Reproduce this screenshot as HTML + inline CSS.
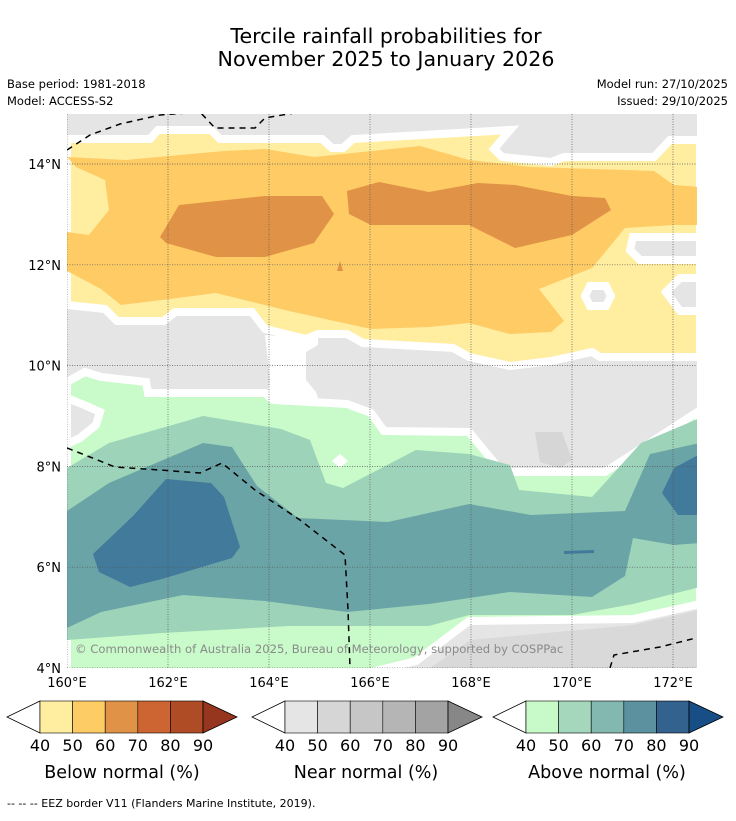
<!DOCTYPE html>
<html><head><meta charset="utf-8">
<style>
body{margin:0;background:#fff;font-family:"Liberation Sans","DejaVu Sans",sans-serif;}
svg text{font-family:"DejaVu Sans","Liberation Sans",sans-serif;}
</style></head>
<body>
<svg id="chart" width="736" height="816" viewBox="0 0 736 816" xmlns="http://www.w3.org/2000/svg">
<text x="386" y="43" font-size="20.6" text-anchor="middle">Tercile rainfall probabilities for</text>
<text x="386" y="66" font-size="20.6" text-anchor="middle">November 2025 to January 2026</text>
<text x="7" y="88" font-size="11.5">Base period: 1981-2018</text>
<text x="7" y="105" font-size="11.5">Model: ACCESS-S2</text>
<text x="728" y="88" font-size="11.5" text-anchor="end">Model run: 27/10/2025</text>
<text x="728" y="105" font-size="11.5" text-anchor="end">Issued: 29/10/2025</text>
<defs><clipPath id="mapclip"><rect x="67" y="114" width="630" height="554"/></clipPath></defs>
<g id="map" clip-path="url(#mapclip)">
<rect x="67" y="114" width="630" height="554" fill="#e5e5e5"/>
<polygon points="430,668 470,640 633,625 700,610 700,668" fill="#d9d9d9"/>
<polygon points="535,432 562,432 572,460 560,468 540,462" fill="#d6d6d6"/>
<polygon points="265,335 306,339 318,334 318,345 306,352 306,380 316,392 320,404 265,404 270,380" fill="#fff"/>
<g id="contours"></g>
<g id="grid"></g>
<g id="eez" fill="none" stroke="#000" stroke-width="1.5" stroke-dasharray="6,5">
<polyline points="67,150 90,135 120,124 160,115 200,112 215,128 255,128 265,118 300,112"/>
<polyline points="67,448 90,457 115,467 160,470 200,473 222,463 255,490 300,520 345,555 348,610 350,668"/>
<polyline points="610,668 614,655 660,647 700,637"/>
</g>
<text x="75" y="653" font-size="11.6" fill="#8a8a8a">© Commonwealth of Australia 2025, Bureau of Meteorology, supported by COSPPac</text>
</g>
<g id="axes" font-size="13"></g>
<g id="colorbars"></g>
<text x="122" y="778" font-size="17.5" text-anchor="middle">Below normal (%)</text>
<text x="366" y="778" font-size="17.5" text-anchor="middle">Near normal (%)</text>
<text x="607" y="778" font-size="17.5" text-anchor="middle">Above normal (%)</text>
<text x="7" y="807" font-size="11">--  --  -- EEZ border V11 (Flanders Marine Institute, 2019).</text>
</svg>
<script>
const NS='http://www.w3.org/2000/svg';
const lonTicks=[160,162,164,166,168,170,172];
const latTicks=[14,12,10,8,6,4];
const colorbarTicks=[40,50,60,70,80,90];
const belowColors=['#ffeda0','#fecc65','#e09346','#cd6532','#b04c25'];
const nearColors=['#e5e5e5','#d6d6d6','#c6c6c6','#b5b5b5','#a3a3a3'];
const aboveColors=['#c8fac9','#a4d7bc','#83b8b0','#5c91a0','#33628f'];
function xLon(l){return 67+(l-160)*50.5;}
function yLat(l){return 164+(14-l)*50.4;}
const contours=[
 {name:'below-40-50',fill:'#ffeda0',stroke:true,pts:[[67,139],[150,139],[158,130],[211,130],[220,139],[322,139],[332,148],[343,148],[353,139],[510,130],[494,149],[502,157],[551,162],[564,157],[654,157],[670,140],[700,140],[700,357],[600,357],[592,352],[551,361],[510,366],[469,357],[453,348],[363,343],[347,334],[318,334],[306,339],[265,329],[252,312],[175,312],[164,321],[117,321],[105,309],[67,305]]},
 {name:'near-patch-right-1',fill:'#e5e5e5',stroke:true,pts:[[633,237],[700,237],[700,260],[640,260],[630,250]]},
 {name:'near-patch-right-2',fill:'#e5e5e5',stroke:true,pts:[[666,292],[680,278],[700,278],[700,311],[680,311]]},
 {name:'near-ring',fill:'#e5e5e5',stroke:true,pts:[[590,286],[606,286],[611,296],[606,306],[590,306],[585,296]]},
 {name:'below-50-60',fill:'#fecb65',stroke:false,pts:[[67,157],[126,160],[224,151],[265,149],[314,157],[420,146],[469,160],[531,167],[654,171],[674,185],[700,187],[700,225],[674,225],[625,228],[592,268],[539,289],[564,321],[551,332],[510,334],[469,323],[429,327],[371,329],[289,311],[216,293],[162,300],[121,305],[101,289],[67,271],[67,232],[89,235],[109,210],[105,180],[76,167]]},
 {name:'below-60-70-west',fill:'#e09346',stroke:false,pts:[[179,205],[265,196],[322,196],[334,214],[314,243],[265,257],[216,257],[166,243],[160,237]]},
 {name:'below-60-70-east',fill:'#e09346',stroke:false,pts:[[347,191],[379,182],[429,192],[478,183],[515,185],[572,196],[605,198],[611,210],[572,235],[515,248],[469,225],[371,225],[349,214]]},
 {name:'below-60-70-dot',fill:'#e09346',stroke:false,pts:[[340,261],[343,271],[337,271]]},
 {name:'above-40-50',fill:'#c8fbc9',stroke:true,pts:[[67,382],[85,372],[101,377],[146,382],[148,393],[265,393],[273,400],[347,404],[371,413],[384,431],[469,432],[502,472],[605,472],[699,411],[700,604],[633,619],[469,621],[416,661],[371,672],[67,672]]},
 {name:'near-left-notch',fill:'#e5e5e5',stroke:true,pts:[[67,398],[82,404],[100,412],[96,425],[80,438],[67,444]]},
 {name:'near-diamond',fill:'#ffffff',stroke:false,pts:[[340,454],[348,461],[340,468],[332,461]]},
 {name:'above-50-60',fill:'#9dd3b8',stroke:false,pts:[[67,468],[109,443],[183,422],[203,416],[281,429],[310,440],[326,483],[343,488],[416,450],[469,454],[510,465],[519,490],[592,497],[641,443],[700,418],[700,587],[633,604],[572,615],[469,615],[429,626],[289,626],[162,633],[67,640]]},
 {name:'above-60-70',fill:'#6ba4a6',stroke:false,pts:[[67,511],[109,483],[203,443],[232,447],[257,486],[298,518],[388,522],[469,504],[531,515],[625,511],[650,454],[700,443],[700,543],[674,545],[633,538],[625,576],[592,597],[510,592],[429,604],[347,612],[265,601],[183,595],[101,612],[67,628]]},
 {name:'above-70-80-west',fill:'#427a9b',stroke:false,pts:[[93,554],[134,515],[166,479],[211,483],[224,497],[240,547],[232,558],[162,579],[130,587],[99,572]]},
 {name:'above-70-80-east',fill:'#427a9b',stroke:false,pts:[[662,493],[674,468],[700,454],[700,515],[678,515]]},
 {name:'above-70-80-dash',fill:'#427a9b',stroke:false,pts:[[564,551],[594,550],[594,553],[564,554]]}
];
const cg=document.getElementById('contours');
contours.forEach(c=>{
 const p=document.createElementNS(NS,'polygon');
 p.setAttribute('points',c.pts.map(q=>q.join(',')).join(' '));
 p.setAttribute('fill',c.fill);
 if(c.stroke){p.setAttribute('stroke','#fff');p.setAttribute('stroke-width','8');p.setAttribute('stroke-linejoin','miter');}
 
 
 cg.appendChild(p);
});
const gg=document.getElementById('grid');
const ag=document.getElementById('axes');
lonTicks.forEach(l=>{
 const x=xLon(l);
 const ln=document.createElementNS(NS,'line');
 ln.setAttribute('x1',x);ln.setAttribute('x2',x);ln.setAttribute('y1',114);ln.setAttribute('y2',668);
 ln.setAttribute('stroke','#555');ln.setAttribute('stroke-width','0.7');ln.setAttribute('stroke-dasharray','1,1.5');
 
 
 gg.appendChild(ln);
 const t=document.createElementNS(NS,'text');
 t.setAttribute('x',x);t.setAttribute('y',687);t.setAttribute('text-anchor','middle');
 t.textContent=l+'°E';
 
 
 ag.appendChild(t);
});
latTicks.forEach(l=>{
 const y=yLat(l);
 const ln=document.createElementNS(NS,'line');
 ln.setAttribute('x1',67);ln.setAttribute('x2',697);ln.setAttribute('y1',y);ln.setAttribute('y2',y);
 ln.setAttribute('stroke','#555');ln.setAttribute('stroke-width','0.7');ln.setAttribute('stroke-dasharray','1,1.5');
 
 
 gg.appendChild(ln);
 const t=document.createElementNS(NS,'text');
 t.setAttribute('x',61);t.setAttribute('y',y+5);t.setAttribute('text-anchor','end');
 t.textContent=l+'°N';
 
 
 ag.appendChild(t);
});
const cb=document.getElementById('colorbars');
function colorbar(x0,colors,over,name){
 const w=32.6,top=701,h=32,mid=717;
 const g=document.createElementNS(NS,'g');
 
 
 const lt=document.createElementNS(NS,'polygon');
 lt.setAttribute('points',`${x0},${top} ${x0-33},${mid} ${x0},${top+h}`);
 lt.setAttribute('fill','#fff');lt.setAttribute('stroke','#000');lt.setAttribute('stroke-width','0.8');
 g.appendChild(lt);
 colors.forEach((c,i)=>{
  const r=document.createElementNS(NS,'rect');
  r.setAttribute('x',x0+i*w);r.setAttribute('y',top);r.setAttribute('width',w);r.setAttribute('height',h);
  r.setAttribute('fill',c);r.setAttribute('stroke','#000');r.setAttribute('stroke-width','0.6');
  
  
  g.appendChild(r);
 });
 const xe=x0+colors.length*w;
 const rt=document.createElementNS(NS,'polygon');
 rt.setAttribute('points',`${xe},${top} ${xe+34},${mid} ${xe},${top+h}`);
 rt.setAttribute('fill',over);rt.setAttribute('stroke','#000');rt.setAttribute('stroke-width','0.8');
 g.appendChild(rt);
 colorbarTicks.forEach((v,i)=>{
  const t=document.createElementNS(NS,'text');
  t.setAttribute('x',x0+i*w);t.setAttribute('y',751);t.setAttribute('text-anchor','middle');t.setAttribute('font-size','16');
  t.textContent=v;
  
  
  g.appendChild(t);
 });
 cb.appendChild(g);
}
colorbar(40,belowColors,'#97361e','below-normal-colorbar');
colorbar(285,nearColors,'#878787','near-normal-colorbar');
colorbar(526,aboveColors,'#174e85','above-normal-colorbar');
</script>
</body></html>
